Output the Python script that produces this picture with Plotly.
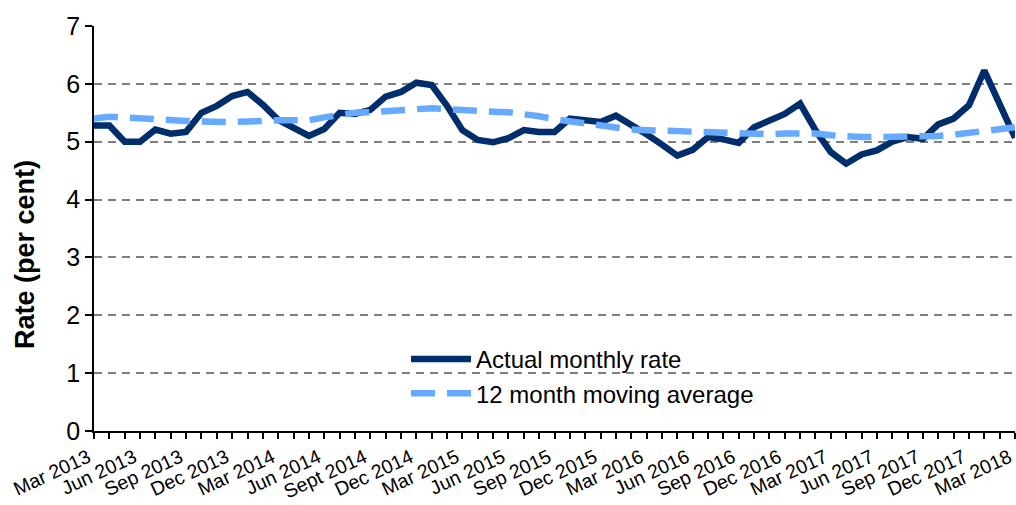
import plotly.graph_objects as go

# ---- data ----
quarter_labels = ["Mar 2013", "Jun 2013", "Sep 2013", "Dec 2013", "Mar 2014", "Jun 2014",
                  "Sept 2014", "Dec 2014", "Mar 2015", "Jun 2015", "Sep 2015", "Dec 2015",
                  "Mar 2016", "Jun 2016", "Sep 2016", "Dec 2016", "Mar 2017", "Jun 2017",
                  "Sep 2017", "Dec 2017", "Mar 2018"]

actual_rate = [5.28, 5.28, 5.00, 5.00, 5.21, 5.14, 5.17, 5.50, 5.62, 5.79,
               5.86, 5.64, 5.38, 5.25, 5.10, 5.22, 5.50, 5.48, 5.55, 5.78,
               5.86, 6.02, 5.98, 5.62, 5.20, 5.03, 4.99, 5.06, 5.20, 5.17,
               5.17, 5.40, 5.37, 5.34, 5.45, 5.30, 5.13, 4.95, 4.76, 4.86,
               5.08, 5.04, 4.98, 5.25, 5.36, 5.48, 5.66, 5.20, 4.82, 4.62,
               4.78, 4.85, 5.00, 5.08, 5.05, 5.30, 5.40, 5.63, 6.23, 5.62, 5.07]

moving_avg = [5.40, 5.43, 5.42, 5.40, 5.38, 5.37, 5.36, 5.35, 5.34, 5.34,
              5.35, 5.37, 5.37, 5.37, 5.37, 5.42, 5.47, 5.50, 5.51, 5.53,
              5.55, 5.57, 5.58, 5.56, 5.54, 5.53, 5.52, 5.51, 5.48, 5.44,
              5.39, 5.35, 5.31, 5.27, 5.23, 5.21, 5.20, 5.19, 5.19, 5.18,
              5.17, 5.16, 5.15, 5.14, 5.13, 5.14, 5.15, 5.14, 5.11, 5.09,
              5.08, 5.08, 5.08, 5.08, 5.09, 5.10, 5.12, 5.15, 5.18, 5.22, 5.25]

months = list(range(len(actual_rate)))
tick_text = [quarter_labels[i // 3] if i % 3 == 0 else "" for i in months]

FONT = "Liberation Sans, Arial, sans-serif"
W, H = 1016, 505
L, R, T, B = 94, 1, 26, 74
pw, ph = W - L - R, H - T - B

fig = go.Figure()
fig.add_trace(go.Scatter(x=months, y=actual_rate, mode="lines", name="Actual monthly rate",
                         line=dict(color="#002D6B", width=6.5)))
fig.add_trace(go.Scatter(x=months, y=moving_avg, mode="lines", name="12 month moving average",
                         yaxis="y2",
                         line=dict(color="#66AAFF", width=6.5, dash="24px,12px")))

# legend backdrop
fig.add_shape(type="rect", xref="paper", yref="paper", layer="between",
              x0=(342 - L) / pw, x1=(808 - L) / pw,
              y0=(T + ph - 412) / ph, y1=(T + ph - 343) / ph,
              fillcolor="white", line=dict(width=0))

fig.update_layout(
    width=W, height=H,
    margin=dict(l=L, r=R, t=T, b=B, autoexpand=False),
    paper_bgcolor="white", plot_bgcolor="white",
    font=dict(family=FONT, color="black"),
    showlegend=True,
    legend=dict(x=(406 - L) / pw, y=(T + ph - 337) / ph, xanchor="left", yanchor="top",
                bgcolor="rgba(0,0,0,0)", font=dict(size=24, family=FONT),
                tracegroupgap=0, itemwidth=60),
    xaxis=dict(range=[0, 60], tickmode="array", tickvals=months, ticktext=tick_text,
               tickangle=-25, tickfont=dict(size=19.5), ticks="outside", ticklen=6,
               tickcolor="black", tickwidth=1.5, showline=True, linecolor="black",
               linewidth=1.5, showgrid=False, zeroline=False, automargin=False,
               ticklabeloverflow="allow", ticklabelshift=-6),
    yaxis=dict(range=[0, 7], tickvals=list(range(8)), tickfont=dict(size=25),
               ticks="outside", ticklen=7, tickcolor="black", tickwidth=1.5,
               showline=True, linecolor="black", linewidth=1.5, showgrid=False,
               zeroline=False, automargin=False),
    yaxis2=dict(range=[0, 7], overlaying="y", tickvals=list(range(1, 7)),
                showticklabels=False, ticks="", showgrid=True, gridcolor="#7F7F7F",
                gridwidth=2, griddash="8px,6px", zeroline=False, showline=False,
                automargin=False),
    annotations=[dict(text="<b>Rate (per cent)</b>", textangle=-90, xref="paper", yref="paper",
                      x=(25 - L) / pw, y=(T + ph - 255) / ph, xanchor="center", yanchor="middle",
                      showarrow=False, font=dict(size=27, family=FONT))],
)

fig.write_html("out.html", config={"displayModeBar": False},
               post_script="document.body.style.margin='0';document.body.style.overflow='hidden';")
